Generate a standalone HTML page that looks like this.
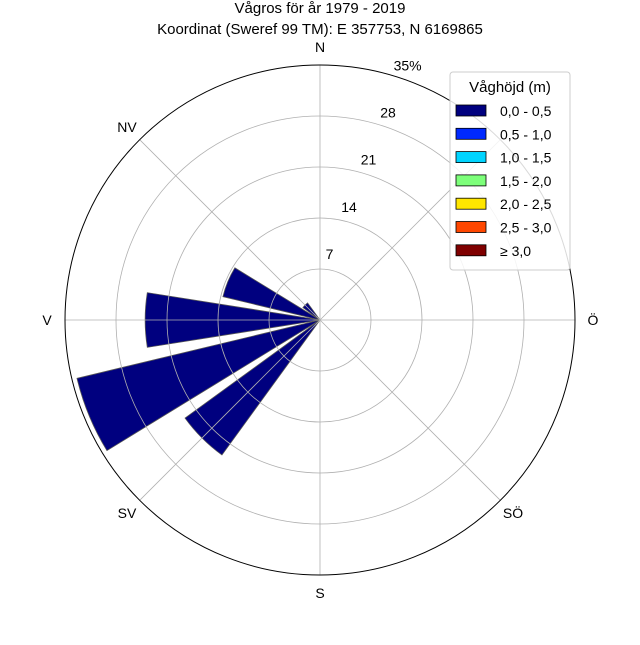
<!DOCTYPE html>
<html><head><meta charset="utf-8"><style>body{margin:0;background:#fff}svg{font-family:"Liberation Sans",sans-serif}</style></head>
<body>
<svg id="chart" width="640" height="640" viewBox="0 0 640 640">
<text x="320" y="13" text-anchor="middle" font-size="15">Vågros för år 1979 - 2019</text>
<text x="320" y="34" text-anchor="middle" font-size="15">Koordinat (Sweref 99 TM): E 357753, N 6169865</text>
<g id="grid"></g><g id="bars"></g><g id="over"></g>
<g id="legend"></g>
</svg>
<script>
const directions=["N","NNÖ","NÖ","ÖNÖ","Ö","ÖSÖ","SÖ","SSÖ","S","SSV","SV","VSV","V","VNV","NV","NNV"];
const values=[0,0,0,0,0,0,0,0,0,0,22.9,34.3,24.0,13.7,2.9,0];
const ringTicks=[7,14,21,28,35];
const ringLabels=["7","14","21","28","35%"];
const compassLabels=["N","NV","V","SV","S","SÖ","Ö"];
const compassAngles=[0,315,270,225,180,135,90];
const legendLabels=["0,0 - 0,5","0,5 - 1,0","1,0 - 1,5","1,5 - 2,0","2,0 - 2,5","2,5 - 3,0","≥ 3,0"];
const legendColors=["#00007f","#0029ff","#00d4ff","#7dff7a","#ffe600","#ff4700","#7f0000"];
const cx=320,cy=320,R=255,maxV=35;
const NS="http://www.w3.org/2000/svg";
const r=v=>v/maxV*R;
const pt=(d,rr)=>[cx+rr*Math.sin(d*Math.PI/180),cy-rr*Math.cos(d*Math.PI/180)];
function mk(t,a,p){const e=document.createElementNS(NS,t);for(const k in a)e.setAttribute(k,a[k]);(p||document.getElementById('chart')).appendChild(e);return e;}
const grid=document.getElementById('grid'),bars=document.getElementById('bars'),over=document.getElementById('over');
for(let i=0;i<8;i++){const [x,y]=pt(i*45,R);const l=mk('line',{x1:cx,y1:cy,x2:x,y2:y,stroke:'#b0b0b0','stroke-width':0.8},over);}
ringTicks.slice(0,-1).forEach(v=>{const c=mk('circle',{cx,cy,r:r(v),fill:'none',stroke:'#b0b0b0','stroke-width':0.8},over);});
const oc=mk('circle',{cx,cy,r:R,fill:'none',stroke:'#000','stroke-width':1},over);
ringTicks.forEach((v,i)=>{const [x,y]=pt(22.5,r(v));const t=mk('text',{x:x-10,y:y-14,'font-size':14,'text-anchor':'middle'},over);t.textContent=ringLabels[i];});
compassLabels.forEach((s,i)=>{const [x,y]=pt(compassAngles[i],R+18);const t=mk('text',{x,y:y+5,'font-size':14,'text-anchor':'middle'},over);t.textContent=s;});
values.forEach((v,i)=>{if(v<=0)return;const d=i*22.5,rr=r(v);const [x1,y1]=pt(d-9,rr),[x2,y2]=pt(d+9,rr);
const p=mk('path',{d:`M${cx},${cy}L${x1},${y1}A${rr},${rr} 0 0 1 ${x2},${y2}Z`,fill:'#00007f',stroke:'#555','stroke-width':0.8},bars);
});
const lg=document.getElementById('legend');
const box=mk('rect',{x:450,y:72,width:120,height:198,rx:3,fill:'#fff','fill-opacity':0.85,stroke:'#ccc'},lg);
const lt=mk('text',{x:510,y:92,'font-size':15,'text-anchor':'middle'},lg);lt.textContent='Våghöjd (m)';
legendLabels.forEach((s,i)=>{const y=111+i*23.3;const sw=mk('rect',{x:456,y:y-6,width:30,height:11,fill:legendColors[i],stroke:'#000','stroke-width':0.8},lg);
const t=mk('text',{x:500,y:y+5,'font-size':14},lg);t.textContent=s;});
</script>
</body></html>
